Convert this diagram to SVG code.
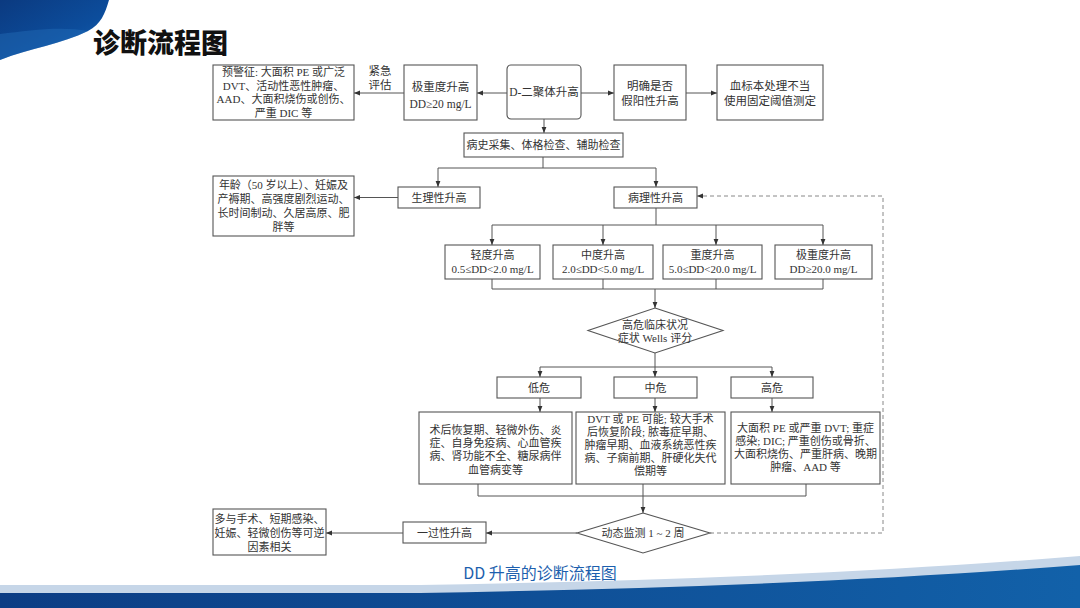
<svg xmlns="http://www.w3.org/2000/svg" width="1080" height="608" viewBox="0 0 1080 608">
<defs>
<linearGradient id="deco" x1="0" y1="0" x2="1" y2="1">
<stop offset="0" stop-color="#0b3a80"/>
<stop offset="0.6" stop-color="#0c4d9c"/>
<stop offset="1" stop-color="#1a67b6"/>
</linearGradient>
<linearGradient id="band" x1="0" y1="0" x2="1" y2="0">
<stop offset="0" stop-color="#0c3d84"/>
<stop offset="1" stop-color="#1261a9"/>
</linearGradient>
<marker id="ah" viewBox="0 0 8 8" refX="8" refY="4" markerWidth="6" markerHeight="6" orient="auto" markerUnits="userSpaceOnUse">
<path d="M0,0.8 L8,4 L0,7.2 Z" fill="#333"/>
</marker>
<style>
.b{fill:#fff;stroke:#555;stroke-width:1.1}
.t{font-family:"Liberation Serif","Noto Sans CJK SC",serif;font-size:11.5px;fill:#333;text-anchor:middle}
.s{font-family:"Liberation Serif","Noto Sans CJK SC",serif;font-size:11px;fill:#333;text-anchor:middle}
.c{fill:none;stroke:#555;stroke-width:1}
.a{fill:none;stroke:#555;stroke-width:1;marker-end:url(#ah)}
.d{fill:none;stroke:#888;stroke-width:1;stroke-dasharray:4 3;marker-end:url(#ah)}
</style>
</defs>
<rect x="0" y="0" width="1080" height="608" fill="#fff"/>
<!-- decorations -->
<path d="M0,0 H109 C105,14 101,24 88,31 C62,44 30,48 0,60 Z" fill="url(#deco)"/>
<path d="M0,34 C30,30 62,26 88,31 C62,44 30,48 0,60 Z" fill="#2a78c2" opacity="0.35"/>
<path d="M0,585 L420,585 Q800,579 1080,556 V608 H0 Z" fill="#c6d6e8"/>
<path d="M0,593 L420,593 Q800,587 1080,565 V608 H0 Z" fill="url(#band)"/>
<text x="93" y="53" font-family="'Noto Sans CJK SC','Noto Sans',sans-serif" font-size="27" font-weight="900" fill="#111">诊断流程图</text>
<text x="540" y="579" font-family="'Noto Sans CJK SC','Noto Sans',sans-serif" font-size="16" fill="#1d5fae" text-anchor="middle">DD 升高的诊断流程图</text>

<g id="connectors">
<path class="a" d="M507,93 H477"/>
<path class="a" d="M404,93 H354"/>
<path class="a" d="M581,93 H614"/>
<path class="a" d="M686,93 H717"/>
<path class="a" d="M544,119 V133"/>
<path class="c" d="M543,157 V168 M438,168 H656"/>
<path class="a" d="M438,168 V187"/>
<path class="a" d="M656,168 V187"/>
<path class="a" d="M398,197.5 H354"/>
<path class="c" d="M656,208 V225 M492,225 H823"/>
<path class="a" d="M492,225 V245"/>
<path class="a" d="M603,225 V245"/>
<path class="a" d="M716,225 V245"/>
<path class="a" d="M823,225 V245"/>
<path class="c" d="M492,279 V289 M603,279 V289 M716,279 V289 M823,279 V289 M492,289 H823"/>
<path class="a" d="M655,289 V308"/>
<path class="c" d="M655,353 V367 M540,367 H772"/>
<path class="a" d="M540,367 V377"/>
<path class="a" d="M655,367 V377"/>
<path class="a" d="M772,367 V377"/>
<path class="a" d="M540,398 V412"/>
<path class="a" d="M655,398 V412"/>
<path class="a" d="M772,398 V412"/>
<path class="c" d="M478,484 V496 M806,484 V496 M478,496 H806"/>
<path class="a" d="M643,484 V513"/>
<path class="a" d="M577,533 H486"/>
<path class="a" d="M403,533 H326"/>
<path class="d" d="M710,533 H883 V196 H697"/>
</g>

<g id="n-warning"><rect class="b" x="213" y="65" width="141" height="55"/>
<text class="s" x="283.5" y="76">预警征: 大面积 PE 或广泛</text>
<text class="s" x="283.5" y="89.5">DVT、活动性恶性肿瘤、</text>
<text class="s" x="283.5" y="103">AAD、大面积烧伤或创伤、</text>
<text class="s" x="283.5" y="116.5">严重 DIC 等</text></g>
<g id="l-urgent"><text class="t" x="380" y="75">紧急</text><text class="t" x="380" y="89">评估</text></g>
<g id="n-extreme"><rect class="b" x="404" y="65" width="73" height="55"/>
<text class="t" x="440.5" y="91">极重度升高</text><text class="t" x="440.5" y="108">DD≥20 mg/L</text></g>
<g id="n-dd"><rect class="b" x="507" y="65" width="74" height="54" rx="4"/>
<text class="t" x="544" y="96">D-二聚体升高</text></g>
<g id="n-false"><rect class="b" x="614" y="65" width="72" height="55"/>
<text class="t" x="650" y="90">明确是否</text><text class="t" x="650" y="105">假阳性升高</text></g>
<g id="n-sample"><rect class="b" x="717" y="65" width="106" height="55"/>
<text class="t" x="770" y="90">血标本处理不当</text><text class="t" x="770" y="105">使用固定阈值测定</text></g>
<g id="n-history"><rect class="b" x="464" y="133" width="159" height="24"/>
<text class="s" x="543.5" y="149">病史采集、体格检查、辅助检查</text></g>
<g id="n-physio"><rect class="b" x="398" y="187" width="82" height="21"/>
<text class="s" x="439" y="201.5">生理性升高</text></g>
<g id="n-age"><rect class="b" x="213" y="176" width="141" height="60"/>
<text class="s" x="283.5" y="188.5">年龄（50 岁以上）、妊娠及</text>
<text class="s" x="283.5" y="202.5">产褥期、高强度剧烈运动、</text>
<text class="s" x="283.5" y="216.5">长时间制动、久居高原、肥</text>
<text class="s" x="283.5" y="230.5">胖等</text></g>
<g id="n-patho"><rect class="b" x="614" y="187" width="83" height="21"/>
<text class="s" x="655.5" y="201.5">病理性升高</text></g>
<g id="n-mild"><rect class="b" x="445" y="245" width="95" height="34"/>
<text class="s" x="492.5" y="259">轻度升高</text><text class="s" x="492.5" y="273">0.5≤DD&lt;2.0 mg/L</text></g>
<g id="n-moderate"><rect class="b" x="553" y="245" width="100" height="34"/>
<text class="s" x="603" y="259">中度升高</text><text class="s" x="603" y="273">2.0≤DD&lt;5.0 mg/L</text></g>
<g id="n-severe"><rect class="b" x="663" y="245" width="99" height="34"/>
<text class="s" x="712.5" y="259">重度升高</text><text class="s" x="712.5" y="273">5.0≤DD&lt;20.0 mg/L</text></g>
<g id="n-vsevere"><rect class="b" x="775" y="245" width="97" height="34"/>
<text class="s" x="823.5" y="259">极重度升高</text><text class="s" x="823.5" y="273">DD≥20.0 mg/L</text></g>
<g id="n-wells"><polygon class="b" points="655,308 723,330.5 655,353 588,330.5"/>
<text class="s" x="655" y="329">高危临床状况</text><text class="s" x="655" y="342">症状 Wells 评分</text></g>
<g id="n-low"><rect class="b" x="497" y="377" width="84" height="21"/><text class="s" x="539" y="391.5">低危</text></g>
<g id="n-mid"><rect class="b" x="614" y="377" width="83" height="21"/><text class="s" x="655.5" y="391.5">中危</text></g>
<g id="n-high"><rect class="b" x="731" y="377" width="82" height="21"/><text class="s" x="772" y="391.5">高危</text></g>
<g id="n-low-d"><rect class="b" x="419" y="412" width="153" height="72"/>
<text class="s" x="495.5" y="434">术后恢复期、轻微外伤、炎</text>
<text class="s" x="495.5" y="447">症、自身免疫病、心血管疾</text>
<text class="s" x="495.5" y="460">病、肾功能不全、糖尿病伴</text>
<text class="s" x="495.5" y="473.5">血管病变等</text></g>
<g id="n-mid-d"><rect class="b" x="576" y="412" width="149" height="72"/>
<text class="s" x="650.5" y="422.5">DVT 或 PE 可能; 较大手术</text>
<text class="s" x="650.5" y="435.5">后恢复阶段; 脓毒症早期、</text>
<text class="s" x="650.5" y="448.5">肿瘤早期、血液系统恶性疾</text>
<text class="s" x="650.5" y="461.5">病、子痫前期、肝硬化失代</text>
<text class="s" x="650.5" y="475">偿期等</text></g>
<g id="n-high-d"><rect class="b" x="731" y="412" width="149" height="72"/>
<text class="s" x="805.5" y="432">大面积 PE 或严重 DVT; 重症</text>
<text class="s" x="805.5" y="445">感染; DIC; 严重创伤或骨折、</text>
<text class="s" x="805.5" y="458">大面积烧伤、严重肝病、晚期</text>
<text class="s" x="805.5" y="471">肿瘤、AAD 等</text></g>
<g id="n-monitor"><polygon class="b" points="643,513 710,533 643,553 577,533"/>
<text class="s" x="643" y="537">动态监测 1 ~ 2 周</text></g>
<g id="n-transient"><rect class="b" x="403" y="522" width="83" height="21"/>
<text class="s" x="444.5" y="537">一过性升高</text></g>
<g id="n-reversible"><rect class="b" x="213" y="509" width="113" height="46"/>
<text class="s" x="269.5" y="523">多与手术、短期感染、</text>
<text class="s" x="269.5" y="537">妊娠、轻微创伤等可逆</text>
<text class="s" x="269.5" y="550.5">因素相关</text></g>
</svg>
